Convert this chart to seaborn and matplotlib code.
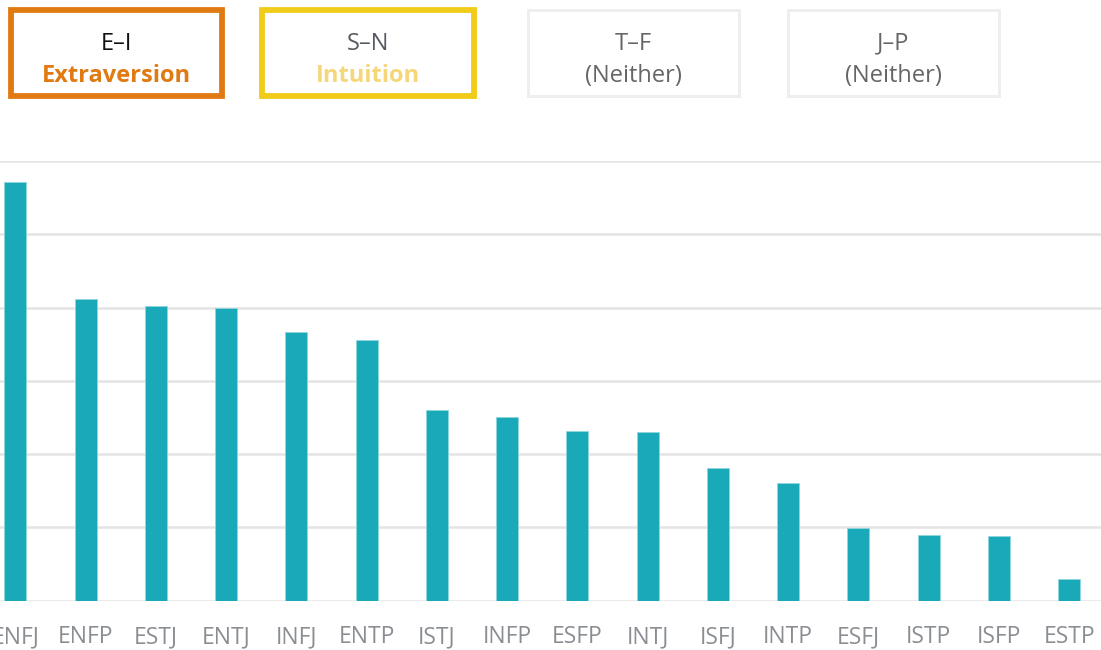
import numpy as np
import pandas as pd
import matplotlib
matplotlib.use("Agg")
import matplotlib.pyplot as plt
import seaborn as sns
from matplotlib.patches import Rectangle

# data (one unit = one gridline step)
types = ["ENFJ", "ENFP", "ESTJ", "ENTJ", "INFJ", "ENTP", "ISTJ", "INFP",
         "ESFP", "INTJ", "ISFJ", "INTP", "ESFJ", "ISTP", "ISFP", "ESTP"]
values = [5.72, 4.12, 4.02, 3.99, 3.66, 3.56, 2.60, 2.51,
          2.32, 2.30, 1.81, 1.61, 0.99, 0.89, 0.88, 0.30]

# the four dimension boxes at the top
dims = ["E–I", "S–N", "T–F", "J–P"]
dim_results = ["Extraversion", "Intuition", "(Neither)", "(Neither)"]

sns.set_style("white")
plt.rcParams["font.family"] = ["Open Sans", "DejaVu Sans"]

W, H = 1101, 650
fig = plt.figure(figsize=(W / 100, H / 100), dpi=100)

def fx(px):
    return px / W

def fy(py):
    return 1 - py / H

# axes placed so the first label is cut off at the left like the original
x0, x1 = -19.8, 1104.4
y_top, y_bot = 161, 600.7
ax = fig.add_axes([fx(x0), fy(y_bot), fx(x1 - x0), (y_bot - y_top) / H])

df = pd.DataFrame({"type": types, "value": values})
sns.barplot(data=df, x="type", y="value", color="#19a9b8", saturation=1,
            width=0.313, edgecolor="#8fd6dd", linewidth=0.6, ax=ax)

ax.set_xlim(-0.5, len(types) - 0.5)
ax.set_ylim(0, 6)
ax.set_yticks(range(0, 7))
ax.set_yticklabels([])
ax.grid(axis="y", color="#e4e4e4", linewidth=1.8)
ax.grid(axis="x", visible=False)
ax.set_axisbelow(True)
sns.despine(ax=ax, left=True, bottom=True)
ax.tick_params(axis="both", length=0)
ax.tick_params(axis="x", pad=17.5, labelsize=16.5, labelcolor="#8a8e93")
ax.set_xlabel("")
ax.set_ylabel("")

# top boxes: centre-of-line coordinates in pixels
boxes = [(11.3, 222.3), (262.3, 473.7), (528.2, 739.2), (787.5, 998.5)]
edge_cols = ["#e07a12", "#f0cb17", "#eeeeee", "#eeeeee"]
edge_w = [5.8, 5.8, 3.0, 3.0]
top_cols = ["#111111", "#555a60", "#666666", "#666666"]
bot_cols = ["#e07a12", "#f5d77a", "#666666", "#666666"]
bot_weight = ["bold", "bold", "normal", "normal"]
by0, by1 = 10.3, 96

for i in range(4):
    bx0, bx1 = boxes[i]
    fig.add_artist(Rectangle((fx(bx0), fy(by1)), fx(bx1 - bx0), (by1 - by0) / H,
                             transform=fig.transFigure, fill=False,
                             edgecolor=edge_cols[i], linewidth=edge_w[i] * 0.72))
    cx = fx((bx0 + bx1) / 2)
    fig.text(cx, fy(49.5), dims[i], ha="center", va="baseline",
             fontsize=17, color=top_cols[i])
    fig.text(cx, fy(81.5), dim_results[i], ha="center", va="baseline",
             fontsize=17, color=bot_cols[i], fontweight=bot_weight[i])

fig.savefig("out.png", dpi=100)
